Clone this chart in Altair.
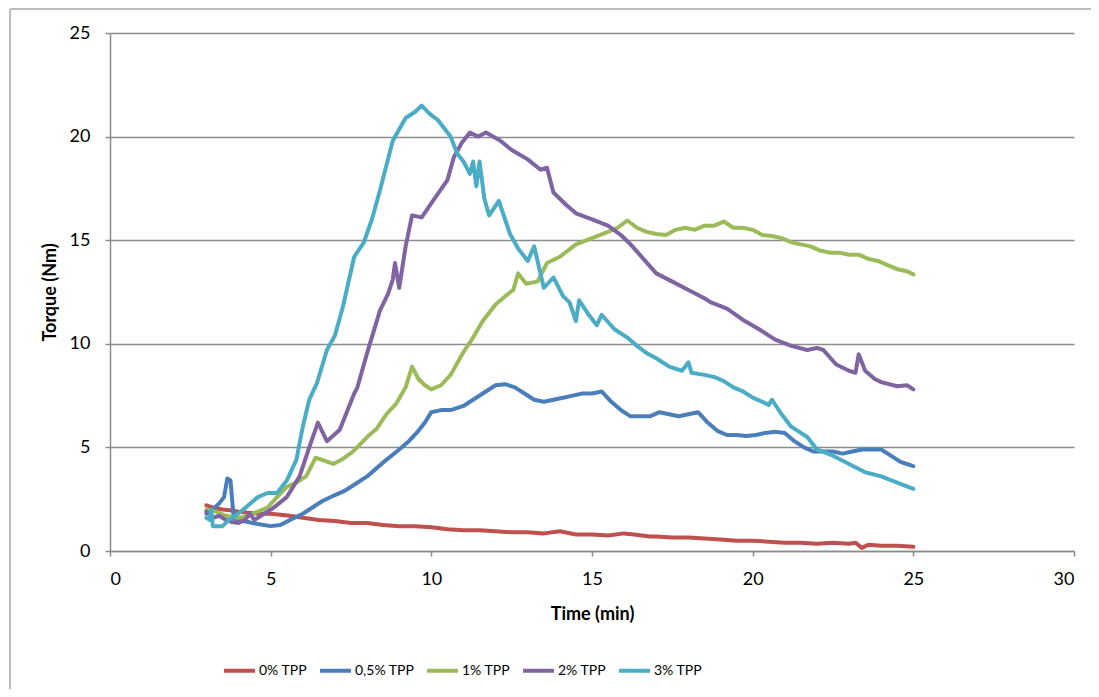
import altair as alt
import pandas as pd

# ---- data ----
series_names = ["0% TPP", "0,5% TPP", "1% TPP", "2% TPP", "3% TPP"]
series_colors = ["#C0504D", "#4A7EBB", "#9BBB59", "#8064A2", "#4BACC6"]

t_0 = [3.0,3.2,3.5,3.8,4.0,4.3,4.6,5.0,5.3,5.6,6.0,6.5,7.0,7.5,8.0,8.5,9.0,9.5,10.0,10.5,11.0,11.5,12.0,12.5,13.0,13.5,14.0,14.5,15.0,15.5,16.0,16.3,16.8,17.0,17.5,18.0,18.5,19.0,19.5,20.0,20.5,21.0,21.5,22.0,22.5,23.0,23.2,23.4,23.6,24.0,24.5,25.0]
v_0 = [2.2,2.1,2.0,1.95,1.9,1.85,1.8,1.8,1.75,1.7,1.6,1.5,1.45,1.35,1.35,1.25,1.2,1.2,1.15,1.05,1.0,1.0,0.95,0.9,0.9,0.85,0.95,0.8,0.8,0.75,0.85,0.8,0.7,0.7,0.65,0.65,0.6,0.55,0.5,0.5,0.45,0.4,0.4,0.35,0.4,0.35,0.4,0.15,0.3,0.25,0.25,0.2]

t_05 = [3.0,3.2,3.4,3.55,3.65,3.75,3.85,4.0,4.3,4.6,5.0,5.3,5.6,6.0,6.3,6.6,7.0,7.3,7.6,8.0,8.3,8.6,9.0,9.3,9.6,9.8,10.0,10.3,10.6,11.0,11.3,11.6,12.0,12.3,12.6,12.9,13.2,13.5,13.8,14.1,14.4,14.7,15.0,15.3,15.6,15.9,16.2,16.5,16.8,17.1,17.4,17.7,18.0,18.3,18.6,18.9,19.2,19.5,19.8,20.1,20.4,20.7,21.0,21.3,21.6,21.9,22.2,22.5,22.8,23.1,23.4,23.7,24.0,24.3,24.6,24.8,25.0]
v_05 = [1.8,2.0,2.3,2.6,3.5,3.4,1.6,1.5,1.4,1.3,1.2,1.25,1.5,1.8,2.1,2.4,2.7,2.9,3.2,3.6,4.0,4.4,4.9,5.3,5.8,6.2,6.7,6.8,6.8,7.0,7.3,7.6,8.0,8.05,7.9,7.6,7.3,7.2,7.3,7.4,7.5,7.6,7.6,7.7,7.2,6.8,6.5,6.5,6.5,6.7,6.6,6.5,6.6,6.7,6.2,5.8,5.6,5.6,5.55,5.6,5.7,5.75,5.7,5.3,5.0,4.8,4.8,4.8,4.7,4.8,4.9,4.9,4.9,4.6,4.3,4.2,4.1]

t_1 = [3.0,3.3,3.6,4.0,4.3,4.6,4.9,5.2,5.5,5.8,6.1,6.4,6.6,6.95,7.2,7.56,8.0,8.3,8.6,8.9,9.2,9.4,9.6,9.8,10.0,10.3,10.6,11.0,11.3,11.6,12.0,12.3,12.55,12.7,12.95,13.3,13.6,14.0,14.5,15.0,15.5,15.8,16.1,16.4,16.7,17.0,17.3,17.6,17.9,18.2,18.5,18.8,19.1,19.4,19.7,20.0,20.3,20.6,20.9,21.2,21.5,21.8,22.1,22.4,22.7,23.0,23.3,23.6,23.9,24.2,24.5,24.8,25.0]
v_1 = [2.0,1.9,1.7,1.6,1.7,1.9,2.1,2.6,3.1,3.3,3.6,4.5,4.4,4.2,4.4,4.8,5.5,5.9,6.6,7.1,7.9,8.9,8.3,8.0,7.8,8.0,8.5,9.6,10.3,11.1,11.9,12.3,12.6,13.4,12.9,13.0,13.9,14.2,14.8,15.1,15.4,15.6,15.95,15.6,15.4,15.3,15.25,15.5,15.6,15.5,15.7,15.7,15.9,15.6,15.6,15.5,15.25,15.2,15.1,14.9,14.8,14.7,14.5,14.4,14.4,14.3,14.3,14.1,14.0,13.8,13.6,13.5,13.35]

t_2 = [3.0,3.2,3.4,3.6,3.8,4.0,4.2,4.35,4.5,4.7,4.9,5.1,5.5,5.9,6.2,6.47,6.75,7.15,7.6,7.7,8.0,8.4,8.65,8.8,8.87,9.0,9.2,9.4,9.7,10.05,10.5,10.7,10.95,11.2,11.45,11.7,12.15,12.5,13.0,13.4,13.6,13.8,14.2,14.5,15.0,15.5,15.9,16.2,16.6,17.0,17.5,18.0,18.5,18.7,19.2,19.7,20.2,20.7,21.2,21.7,22.0,22.2,22.6,23.0,23.2,23.3,23.5,23.8,24.0,24.5,24.8,25.0]
v_2 = [1.9,1.6,1.7,1.5,1.4,1.35,1.5,1.8,1.5,1.7,1.9,2.1,2.6,3.6,5.0,6.2,5.3,5.85,7.6,7.9,9.55,11.6,12.4,13.1,13.9,12.7,14.7,16.2,16.1,16.9,17.9,19.0,19.7,20.2,20.0,20.2,19.8,19.35,18.9,18.4,18.5,17.3,16.7,16.3,16.0,15.7,15.25,14.8,14.1,13.4,13.0,12.6,12.2,12.0,11.7,11.15,10.7,10.2,9.9,9.7,9.8,9.7,9.0,8.7,8.6,9.5,8.7,8.3,8.15,7.95,8.0,7.8]

t_3 = [3.0,3.1,3.15,3.2,3.5,3.7,3.9,4.15,4.6,4.9,5.2,5.5,5.8,6.0,6.2,6.44,6.75,7.0,7.25,7.6,7.9,8.15,8.4,8.8,9.2,9.5,9.7,9.95,10.2,10.6,10.8,11.0,11.2,11.3,11.4,11.5,11.65,11.8,12.1,12.45,12.7,13.0,13.2,13.5,13.8,14.1,14.3,14.5,14.6,14.9,15.15,15.3,15.7,16.1,16.4,16.7,17.0,17.4,17.8,18.0,18.1,18.5,18.8,19.1,19.4,19.7,20.0,20.3,20.5,20.6,20.9,21.2,21.5,21.7,22.0,22.5,23.0,23.5,24.0,24.5,25.0]
v_3 = [1.6,1.5,2.0,1.2,1.2,1.5,1.7,2.0,2.6,2.8,2.8,3.4,4.4,6.0,7.3,8.1,9.7,10.4,11.8,14.2,14.9,16.0,17.4,19.8,20.9,21.2,21.5,21.1,20.8,20.0,19.2,18.8,18.2,18.8,17.6,18.8,17.0,16.2,16.9,15.3,14.6,14.0,14.7,12.7,13.2,12.3,12.0,11.1,12.1,11.4,10.9,11.4,10.7,10.3,9.9,9.55,9.3,8.9,8.7,9.1,8.6,8.5,8.4,8.2,7.9,7.7,7.4,7.2,7.05,7.3,6.6,6.0,5.7,5.5,4.9,4.6,4.2,3.8,3.6,3.3,3.0]

x_ticks = [0, 5, 10, 15, 20, 25, 30]
y_ticks = [0, 5, 10, 15, 20, 25]

all_t = [t_0, t_05, t_1, t_2, t_3]
all_v = [v_0, v_05, v_1, v_2, v_3]
rows = []
for name, ts, vs in zip(series_names, all_t, all_v):
    for t, v in zip(ts, vs):
        rows.append({"Time": t, "Torque": v, "Series": name})
df = pd.DataFrame(rows)

FONT = "Lato"
GRAY = "#8C8C8C"

lines = alt.Chart(df).mark_line(strokeWidth=4, strokeJoin="round", strokeCap="round").encode(
    x=alt.X("Time:Q",
            scale=alt.Scale(domain=[0, 30], nice=False),
            axis=alt.Axis(values=x_ticks, title="Time (min)", grid=False,
                          labelPadding=14, titlePadding=17)),
    y=alt.Y("Torque:Q",
            scale=alt.Scale(domain=[0, 25], nice=False),
            axis=alt.Axis(values=y_ticks, title="Torque (Nm)", grid=True,
                          labelPadding=15, titlePadding=10)),
    color=alt.Color("Series:N",
                    scale=alt.Scale(domain=series_names, range=series_colors),
                    legend=alt.Legend(title=None, orient="none", direction="horizontal",
                                      columns=5, legendX=112, legendY=620,
                                      symbolType="stroke", symbolSize=961,
                                      symbolStrokeWidth=4, columnPadding=4,
                                      labelFontSize=14, labelFont=FONT, labelOffset=2,
                                      labelColor="#000000", padding=0)),
)

border_df = pd.DataFrame({"k": [0]})
top_border = alt.Chart(border_df).mark_rule(color="#A6A6A6", strokeWidth=1.5).encode(
    x=alt.value(-100), x2=alt.value(1000), y=alt.value(-24))
left_border = alt.Chart(border_df).mark_rule(color="#A6A6A6", strokeWidth=1.5).encode(
    x=alt.value(-100), y=alt.value(-24), y2=alt.value(700))

chart = alt.layer(top_border, left_border, lines).properties(
    width=964, height=518,
    autosize=alt.AutoSizeParams(type="none"),
    padding={"left": 102, "top": 25, "right": 17, "bottom": 138},
).configure_view(stroke=None).configure_axis(
    domainColor=GRAY, domainWidth=1.5, tickColor=GRAY, tickWidth=1.5, tickSize=5,
    gridColor=GRAY, gridWidth=1.5,
    labelFont=FONT, labelFontSize=18, labelColor="#000000",
    titleFont=FONT, titleFontSize=18, titleFontWeight="bold", titleColor="#000000",
)

chart.save("out.html", embed_options={"renderer": "svg", "actions": False})
